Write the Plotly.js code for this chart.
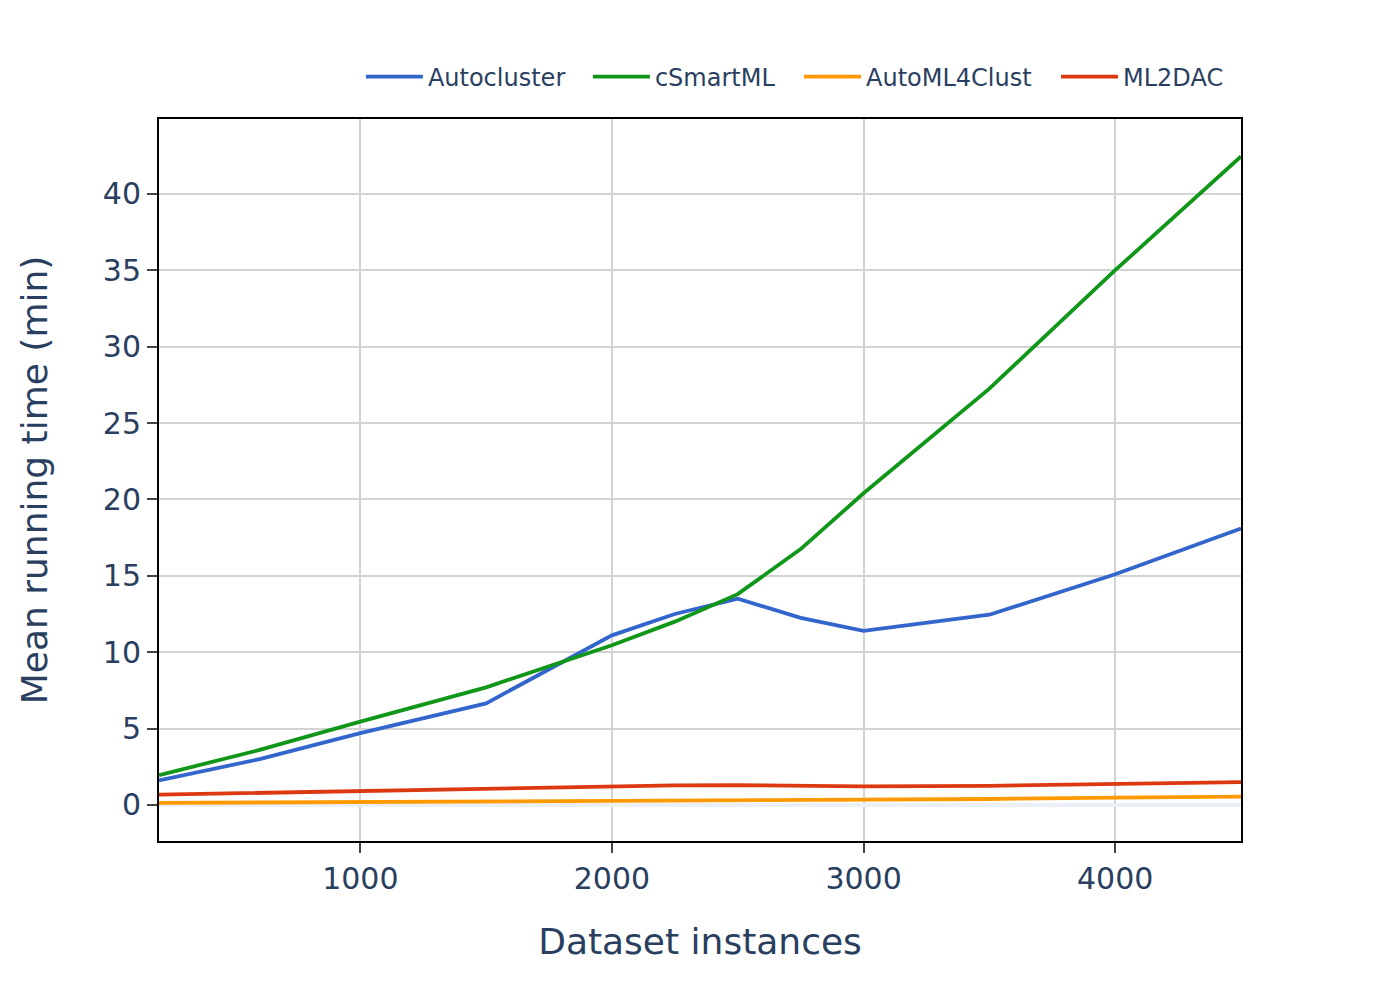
<!DOCTYPE html>
<html>
<head>
<meta charset="utf-8">
<script src="https://cdn.plot.ly/plotly-3.0.1.min.js"></script>
<style>html,body{margin:0;padding:0;background:#fff;}</style>
</head>
<body>
<div id="chart" style="width:1400px;height:1000px;"></div>
<script>
const instances = [200, 600, 1000, 1500, 2000, 2250, 2500, 2750, 3000, 3500, 4000, 4500];
const autocluster = [1.6, 3.0, 4.7, 6.65, 11.1, 12.5, 13.5, 12.25, 11.4, 12.45, 15.1, 18.1];
const csmartml = [1.95, 3.6, 5.45, 7.7, 10.45, 12.0, 13.8, 16.75, 20.4, 27.25, 35.0, 42.45];
const automl4clust = [0.13, 0.16, 0.2, 0.23, 0.26, 0.27, 0.28, 0.29, 0.3, 0.39, 0.48, 0.54];
const ml2dac = [0.67, 0.8, 0.91, 1.07, 1.21, 1.28, 1.29, 1.25, 1.22, 1.25, 1.37, 1.5];
const seriesNames = ['Autocluster', 'cSmartML', 'AutoML4Clust', 'ML2DAC'];
const seriesColors = ['#3366CC', '#109618', '#FF9900', '#DC3912'];
const seriesValues = [autocluster, csmartml, automl4clust, ml2dac];
const legendIds = ['legend', 'legend2', 'legend3', 'legend4'];
const legendX = [0.1866, 0.3964, 0.5915, 0.8290];

const traces = seriesNames.map((n, i) => ({
  x: instances, y: seriesValues[i], name: n, type: 'scatter', mode: 'lines',
  legend: legendIds[i],
  line: {color: seriesColors[i], width: 3.8}
}));

const fontColor = '#2a3f5f';
const layout = {
  width: 1400, height: 1000,
  margin: {l: 159, r: 159, t: 119, b: 159},
  paper_bgcolor: '#fff', plot_bgcolor: '#fff',
  font: {family: 'DejaVu Sans', color: fontColor, size: 24},
  showlegend: true,
  xaxis: {
    range: [200, 4500], dtick: 1000, tick0: 0,
    showgrid: true, gridcolor: 'lightgray', gridwidth: 2,
    showline: true, linecolor: 'black', linewidth: 2, mirror: true,
    ticks: 'outside', ticklen: 10, tickwidth: 2, tickcolor: '#444',
    zeroline: false,
    tickfont: {size: 30, color: fontColor},
    title: {text: 'Dataset instances', font: {size: 36, color: fontColor}, standoff: 34}
  },
  yaxis: {
    range: [-2.36, 44.9], dtick: 5, tick0: 0,
    showgrid: true, gridcolor: 'lightgray', gridwidth: 2,
    showline: true, linecolor: 'black', linewidth: 2, mirror: true,
    ticks: 'outside', ticklen: 10, tickwidth: 2, tickcolor: '#444',
    zeroline: true, zerolinecolor: '#EBF0F8', zerolinewidth: 4,
    tickfont: {size: 30, color: fontColor},
    title: {text: 'Mean running time (min)', font: {size: 36, color: fontColor}, standoff: 44}
  }
};
legendIds.forEach((id, i) => {
  layout[id] = {orientation: 'h', x: legendX[i], xanchor: 'left', y: 1.027, yanchor: 'bottom',
                font: {size: 24, color: fontColor}, itemwidth: 57, bgcolor: 'rgba(0,0,0,0)'};
});
Plotly.newPlot('chart', traces, layout, {displayModeBar: false});
</script>
</body>
</html>
